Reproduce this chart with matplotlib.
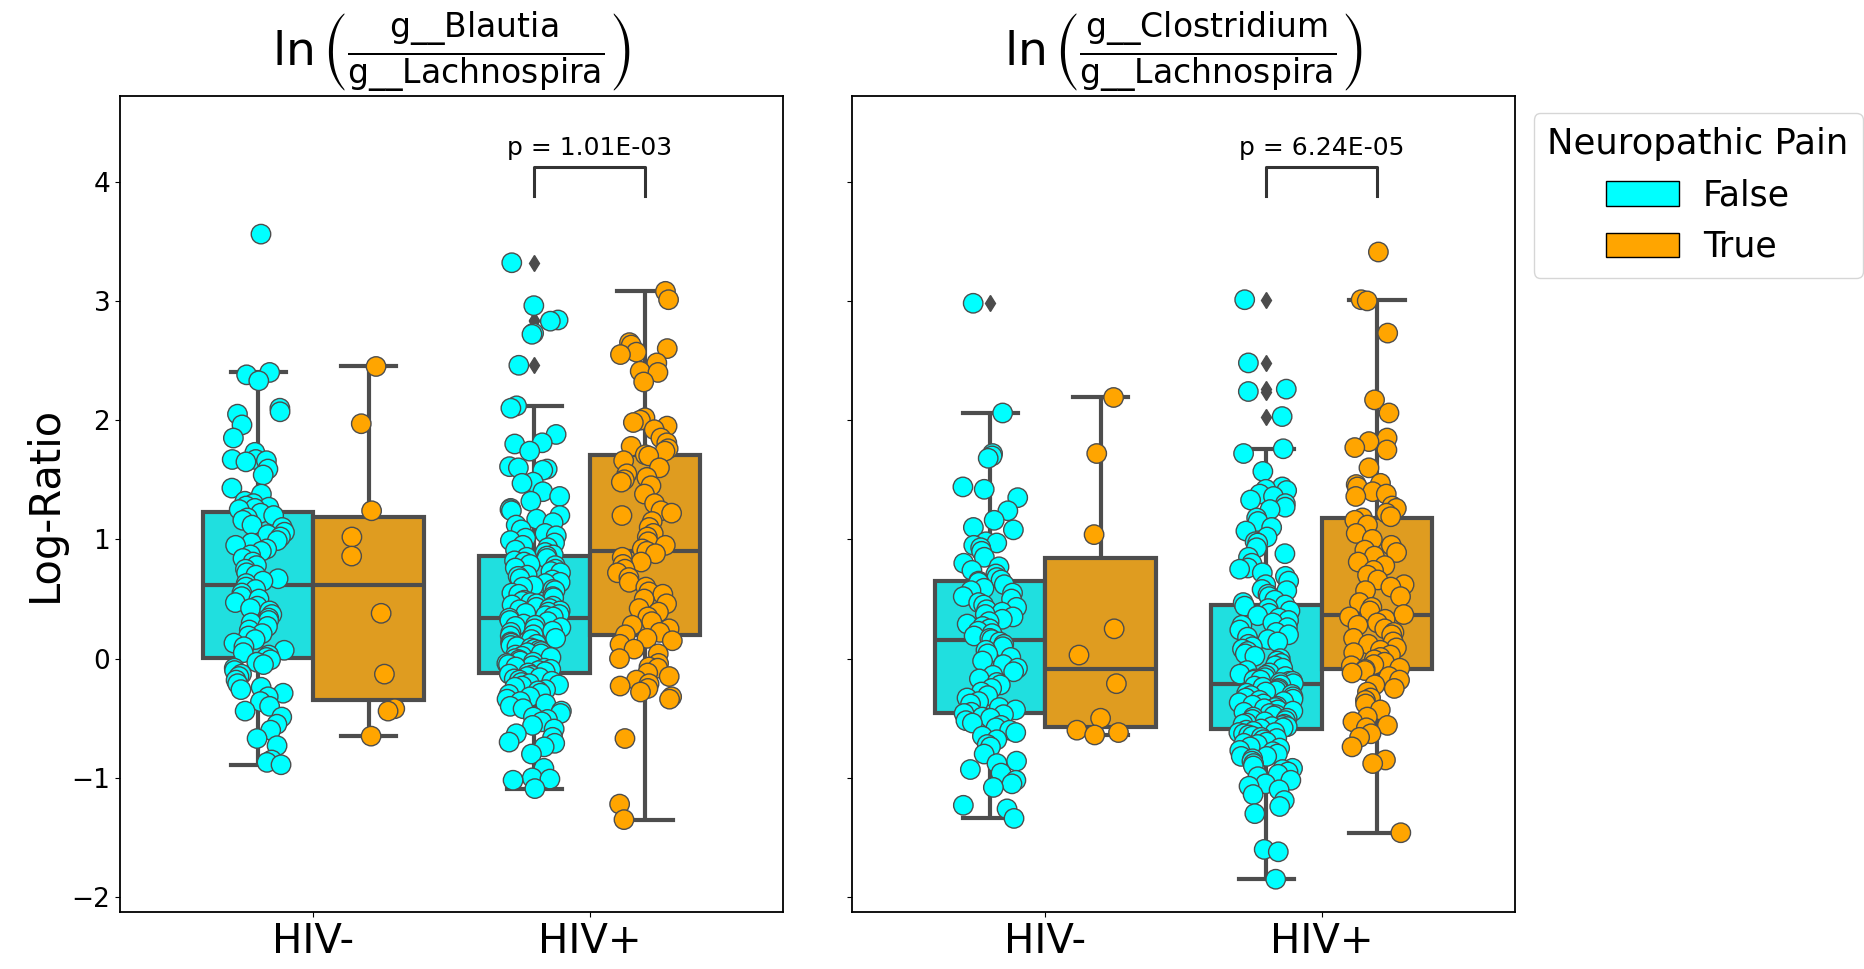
import numpy as np
import pandas as pd
import matplotlib.pyplot as plt
import seaborn as sns
from matplotlib.patches import Patch

hiv_groups = ['HIV-', 'HIV+']
pain_groups = ['False', 'True']
palette = {'False': 'cyan', 'True': 'orange'}

titles = [r'$\ln\left(\frac{\mathrm{g\_\_Blautia}}{\mathrm{g\_\_Lachnospira}}\right)$',
          r'$\ln\left(\frac{\mathrm{g\_\_Clostridium}}{\mathrm{g\_\_Lachnospira}}\right)$']
p_values = ['1.01E-03', '6.24E-05']

# ln(g__Blautia / g__Lachnospira)
blautia_neg_false = [
    3.56, 2.40, 2.38, 2.33, 2.10, 2.07, 2.05, 1.96, 1.85, 1.73, 1.67, 1.67,
    1.66, 1.65, 1.59, 1.54, 1.43, 1.38, 1.32, 1.30, 1.28, 1.27, 1.26, 1.25,
    1.22, 1.20, 1.18, 1.16, 1.12, 1.10, 1.06, 1.04, 1.02, 0.99, 0.97, 0.95,
    0.92, 0.90, 0.87, 0.84, 0.81, 0.78, 0.75, 0.72, 0.70, 0.67, 0.65, 0.63,
    0.60, 0.58, 0.55, 0.52, 0.50, 0.47, 0.44, 0.42, 0.40, 0.37, 0.34, 0.32,
    0.30, 0.27, 0.24, 0.21, 0.19, 0.16, 0.13, 0.10, 0.07, 0.05, 0.03, 0.01,
    -0.01, -0.03, -0.05, -0.08, -0.10, -0.13, -0.15, -0.18, -0.21, -0.24,
    -0.26, -0.29, -0.32, -0.36, -0.40, -0.44, -0.49, -0.55, -0.60, -0.67,
    -0.73, -0.85, -0.87, -0.89]
blautia_neg_true = [2.45, 1.97, 1.24, 1.02, 0.86, 0.38, -0.13, -0.42, -0.44, -0.65]
blautia_pos_false = [
    3.32, 2.96, 2.84, 2.83, 2.73, 2.72, 2.46, 2.12, 2.10, 1.88, 1.81, 1.80,
    1.74, 1.61, 1.60, 1.59, 1.58, 1.48, 1.47, 1.40, 1.36, 1.32, 1.26, 1.25,
    1.24, 1.20, 1.17, 1.14, 1.12, 1.08, 1.05, 1.03, 1.01, 0.99, 0.97, 0.95,
    0.93, 0.91, 0.89, 0.87, 0.86,
    0.85, 0.84, 0.82, 0.81, 0.79, 0.78, 0.76, 0.75, 0.73, 0.72, 0.70, 0.69,
    0.67, 0.66, 0.64, 0.63, 0.61, 0.60, 0.58, 0.57, 0.55, 0.54, 0.52, 0.51,
    0.49, 0.48, 0.47, 0.46, 0.45, 0.44, 0.43, 0.42, 0.41, 0.40, 0.39, 0.38,
    0.37, 0.36, 0.35, 0.34,
    0.32, 0.31, 0.29, 0.28, 0.27, 0.26, 0.25, 0.23, 0.22, 0.20, 0.19, 0.17,
    0.16, 0.14, 0.13, 0.12, 0.11, 0.10, 0.09, 0.08, 0.07, 0.06, 0.05, 0.04,
    0.03, 0.02, 0.01, 0.00, -0.01, -0.02, -0.03, -0.04, -0.05, -0.06, -0.07,
    -0.08, -0.09, -0.10, -0.11, -0.12,
    -0.13, -0.14, -0.15, -0.16, -0.17, -0.18, -0.19, -0.20, -0.21, -0.22,
    -0.23, -0.24, -0.26, -0.27, -0.29, -0.30, -0.32, -0.34, -0.36, -0.38,
    -0.40, -0.42, -0.44, -0.46, -0.49, -0.51, -0.53, -0.56, -0.59, -0.63,
    -0.66, -0.70, -0.71, -0.74, -0.80, -0.92, -1.00, -1.01, -1.02, -1.09]
blautia_pos_true = [
    3.08, 3.01, 2.65, 2.63, 2.60, 2.57, 2.55, 2.48, 2.41, 2.40, 2.32, 2.02,
    2.00, 1.98, 1.95, 1.92, 1.85, 1.81, 1.78, 1.76, 1.74, 1.71,
    1.70, 1.66, 1.60, 1.55, 1.52, 1.50, 1.48, 1.45, 1.38, 1.30, 1.24, 1.22,
    1.20, 1.15, 1.10, 1.05, 1.02, 0.98, 0.95, 0.92, 0.90,
    0.88, 0.85, 0.81, 0.79, 0.75, 0.72, 0.68, 0.64, 0.60, 0.56, 0.54, 0.50,
    0.46, 0.42, 0.39, 0.35, 0.31, 0.28, 0.25, 0.22, 0.20,
    0.17, 0.15, 0.12, 0.08, 0.04, 0.00, -0.04, -0.07, -0.08, -0.12, -0.15,
    -0.18, -0.21, -0.23, -0.25, -0.28, -0.32, -0.34, -0.67, -1.22, -1.35]

# ln(g__Clostridium / g__Lachnospira)
clostridium_neg_false = [
    2.98, 2.06, 1.72, 1.70, 1.68, 1.44, 1.42, 1.35, 1.24, 1.16, 1.10, 1.08,
    0.98, 0.97, 0.95, 0.93, 0.90, 0.85, 0.80, 0.77, 0.74, 0.71, 0.68, 0.66,
    0.65,
    0.64, 0.62, 0.59, 0.57, 0.55, 0.52, 0.50, 0.47, 0.45, 0.43, 0.41, 0.39,
    0.37, 0.35, 0.33, 0.31, 0.29, 0.27, 0.25, 0.23, 0.21, 0.19, 0.17, 0.16,
    0.14, 0.12, 0.10, 0.07, 0.04, 0.01, -0.02, -0.05, -0.08, -0.11, -0.14,
    -0.17, -0.20, -0.22, -0.25, -0.28, -0.31, -0.33, -0.36, -0.38, -0.41,
    -0.43, -0.45, -0.46,
    -0.47, -0.49, -0.50, -0.52, -0.54, -0.56, -0.58, -0.60, -0.62, -0.65,
    -0.68, -0.72, -0.74, -0.80, -0.86, -0.88, -0.93, -0.96, -1.02, -1.05,
    -1.08, -1.23, -1.26, -1.34]
clostridium_neg_true = [2.19, 1.72, 1.04, 0.25, 0.03, -0.21, -0.50, -0.60, -0.62, -0.64]
clostridium_pos_false = [
    3.01, 2.48, 2.26, 2.24, 2.03, 1.76, 1.72, 1.57, 1.44, 1.42, 1.41, 1.38,
    1.36, 1.33, 1.30, 1.27, 1.25, 1.18, 1.15, 1.10, 1.07, 1.02, 0.98, 0.97,
    0.93, 0.88, 0.85, 0.80, 0.76, 0.75, 0.72, 0.69, 0.65, 0.62, 0.58, 0.57,
    0.54, 0.52, 0.49, 0.47, 0.45,
    0.44, 0.42, 0.40, 0.38, 0.36, 0.34, 0.32, 0.30, 0.28, 0.26, 0.24, 0.22,
    0.20, 0.18, 0.16, 0.14, 0.12, 0.10, 0.08, 0.06, 0.04, 0.02, 0.00, -0.02,
    -0.04, -0.06, -0.08, -0.10, -0.12, -0.13, -0.14, -0.15, -0.16, -0.17,
    -0.18, -0.18, -0.19, -0.19, -0.20, -0.21,
    -0.22, -0.23, -0.24, -0.25, -0.26, -0.27, -0.28, -0.29, -0.30, -0.31,
    -0.32, -0.33, -0.34, -0.35, -0.36, -0.37, -0.38, -0.39, -0.40, -0.41,
    -0.42, -0.43, -0.44, -0.45, -0.46, -0.47, -0.48, -0.49, -0.50, -0.51,
    -0.52, -0.53, -0.54, -0.55, -0.55, -0.56, -0.57, -0.57, -0.58, -0.59,
    -0.60, -0.61, -0.62, -0.62, -0.63, -0.64, -0.65, -0.66, -0.67, -0.68,
    -0.70, -0.71, -0.72, -0.74, -0.75, -0.77, -0.78, -0.80, -0.82, -0.82,
    -0.84, -0.86, -0.88, -0.90, -0.92, -0.93, -0.95, -0.97, -0.99, -1.02,
    -1.05, -1.07, -1.10, -1.14, -1.19, -1.24, -1.30, -1.60, -1.62, -1.85]
clostridium_pos_true = [
    3.41, 3.01, 3.00, 2.73, 2.17, 2.06, 1.85, 1.82, 1.77, 1.75, 1.60, 1.47,
    1.46, 1.44, 1.40, 1.38, 1.36, 1.28, 1.26, 1.22, 1.19, 1.18,
    1.16, 1.12, 1.05, 1.00, 0.95, 0.91, 0.89, 0.86, 0.81, 0.78, 0.74, 0.70,
    0.66, 0.62, 0.60, 0.57, 0.52, 0.47, 0.43, 0.40, 0.37,
    0.35, 0.33, 0.30, 0.28, 0.25, 0.22, 0.20, 0.17, 0.14, 0.12, 0.09, 0.07,
    0.05, 0.03, 0.01, -0.01, -0.03, -0.05, -0.06, -0.08, -0.09,
    -0.10, -0.12, -0.15, -0.18, -0.22, -0.25, -0.28, -0.33, -0.35, -0.38,
    -0.43, -0.49, -0.53, -0.56, -0.58, -0.63, -0.66, -0.74, -0.85, -0.88,
    -1.46]


def make_frame(neg_false, neg_true, pos_false, pos_true):
    rows = []
    for hiv, pain, vals in [('HIV-', 'False', neg_false), ('HIV-', 'True', neg_true),
                            ('HIV+', 'False', pos_false), ('HIV+', 'True', pos_true)]:
        for v in vals:
            rows.append((hiv, pain, v))
    return pd.DataFrame(rows, columns=['HIV', 'Pain', 'Log-Ratio'])


frames = [make_frame(blautia_neg_false, blautia_neg_true, blautia_pos_false, blautia_pos_true),
          make_frame(clostridium_neg_false, clostridium_neg_true, clostridium_pos_false, clostridium_pos_true)]

np.random.seed(3)
fig, axes = plt.subplots(1, 2, figsize=(18.64, 9.69), dpi=100, sharey=True)
fig.subplots_adjust(left=0.0644, right=0.8128, bottom=0.0588, top=0.9009, wspace=0.104)

for ax, df, title, p in zip(axes, frames, titles, p_values):
    sns.boxplot(data=df, x='HIV', y='Log-Ratio', hue='Pain', order=hiv_groups,
                hue_order=pain_groups, palette=palette, width=0.8, linewidth=3,
                flierprops=dict(marker='d', markerfacecolor='#4c4c4c',
                                markeredgecolor='#4c4c4c', markersize=8),
                ax=ax)
    sns.stripplot(data=df, x='HIV', y='Log-Ratio', hue='Pain', order=hiv_groups,
                  hue_order=pain_groups, palette=palette, dodge=True, jitter=0.2,
                  size=14, edgecolor='gray', linewidth=1, ax=ax)
    if ax.get_legend() is not None:
        ax.get_legend().remove()

    # significance bracket between False/True boxes of HIV+
    ax.plot([0.8, 0.8, 1.2, 1.2], [3.88, 4.12, 4.12, 3.88], color='0.2', lw=2.2)
    ax.text(1.0, 4.18, 'p = ' + p, ha='center', va='bottom', fontsize=18)

    ax.set_title(title, fontsize=34, pad=2)
    ax.set_xlim(-0.7, 1.7)
    ax.set_ylim(-2.125, 4.718)
    ax.set_xlabel('')
    ax.tick_params(axis='x', labelsize=29)
    ax.tick_params(axis='y', labelsize=19)
    for sp in ax.spines.values():
        sp.set_linewidth(1.3)

axes[0].set_ylabel('Log-Ratio', fontsize=30)
axes[1].set_ylabel('')
axes[0].set_yticks([-2, -1, 0, 1, 2, 3, 4])

handles = [Patch(facecolor=palette[k], edgecolor='black', label=k) for k in pain_groups]
fig.legend(handles=handles, title='Neuropathic Pain', loc='upper left',
           bbox_to_anchor=(0.8134, 0.901), fontsize=25, title_fontsize=25.5,
           handlelength=2.1, handleheight=0.7, handletextpad=0.7)

plt.savefig('out.png')
